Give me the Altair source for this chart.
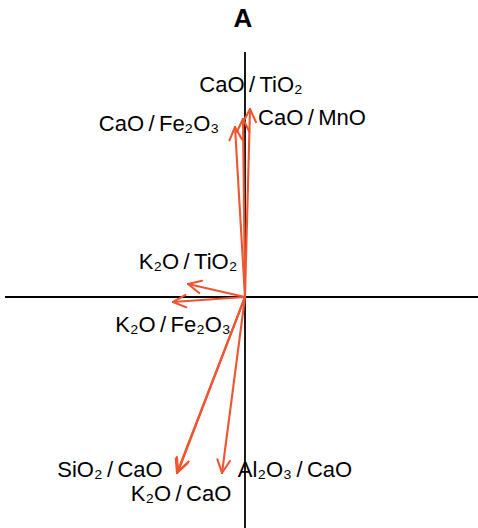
import numpy as np
import pandas as pd
import altair as alt

# Variable loadings (biplot vectors) and where each label sits
SL = "\u2009/\u2009"
names = ["CaO" + SL + "MnO", "CaO" + SL + "TiO₂", "CaO" + SL + "Fe₂O₃",
         "K₂O" + SL + "TiO₂", "K₂O" + SL + "Fe₂O₃", "SiO₂" + SL + "CaO",
         "K₂O" + SL + "CaO", "Al₂O₃" + SL + "CaO"]
load_x = [0.025, -0.01, -0.05, -0.285, -0.36, -0.34, -0.334, -0.115]
load_y = [0.94, 0.89, 0.85, 0.065, -0.025, -0.88, -0.872, -0.88]
label_x = [0.335, 0.03, -0.43, -0.285, -0.36, -0.675, -0.32, 0.25]
label_y = [0.895, 1.06, 0.865, 0.175, -0.14, -0.865, -0.985, -0.865]

# Plot window and the two reference axes through the origin
x_domain = [-1.225, 1.165]
y_domain = [-1.155, 1.485]
h_axis = [-1.2, 1.165]
v_axis = [-1.155, 1.225]

head_len = 0.072
head_spread = np.deg2rad(26)
ORANGE = "#EE5530"

segs = []
for n, x, y in zip(names, load_x, load_y):
    segs.append(dict(name=n, x=0.0, y=0.0, x2=x, y2=y))
    ang = np.arctan2(y, x)
    for s in (-1, 1):
        a = ang + s * head_spread
        segs.append(dict(name=n, x=x, y=y,
                         x2=x - head_len * np.cos(a), y2=y - head_len * np.sin(a)))
seg_df = pd.DataFrame(segs)

labels_df = pd.DataFrame({"name": names, "lx": label_x, "ly": label_y})
axes_df = pd.DataFrame({
    "x": [h_axis[0], 0.0], "x2": [h_axis[1], 0.0],
    "y": [0.0, v_axis[0]], "y2": [0.0, v_axis[1]],
})

xs = alt.Scale(domain=x_domain, nice=False, zero=False)
ys = alt.Scale(domain=y_domain, nice=False, zero=False)

axes = alt.Chart(axes_df).mark_rule(color="black", strokeWidth=1.8).encode(
    x=alt.X("x:Q", scale=xs, axis=None), x2="x2:Q",
    y=alt.Y("y:Q", scale=ys, axis=None), y2="y2:Q",
)

arrows = alt.Chart(seg_df).mark_rule(
    color=ORANGE, strokeWidth=2.1, strokeCap="round"
).encode(
    x=alt.X("x:Q", scale=xs, axis=None), x2="x2:Q",
    y=alt.Y("y:Q", scale=ys, axis=None), y2="y2:Q",
)

labels = alt.Chart(labels_df).mark_text(
    font="Liberation Sans", fontSize=22, color="black",
    align="center", baseline="middle",
).encode(
    x=alt.X("lx:Q", scale=xs, axis=None),
    y=alt.Y("ly:Q", scale=ys, axis=None),
    text="name:N",
)

title = alt.Chart(pd.DataFrame({"t": ["A"]})).mark_text(
    font="Liberation Sans", fontSize=26, fontWeight="bold", color="black",
    align="center", baseline="middle",
).encode(x=alt.value(243), y=alt.value(19), text="t:N")

chart = alt.layer(axes, arrows, labels, title).properties(
    width=478, height=528, padding=0, autosize=alt.AutoSizeParams(type="none"),
    background="white",
).configure_view(stroke=None)

chart.save("out.html", embed_options={"renderer": "svg", "actions": False})
